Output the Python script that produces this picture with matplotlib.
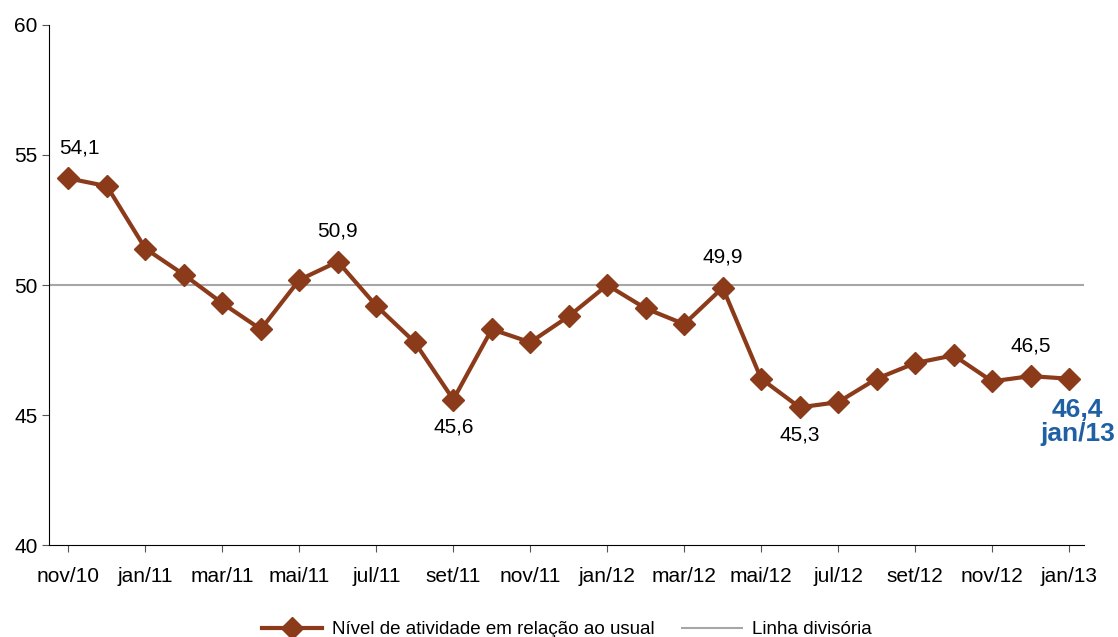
import matplotlib.pyplot as plt

plt.rcParams['font.family'] = ['Liberation Sans', 'DejaVu Sans']

months = ['nov/10', 'dez/10', 'jan/11', 'fev/11', 'mar/11', 'abr/11', 'mai/11', 'jun/11',
          'jul/11', 'ago/11', 'set/11', 'out/11', 'nov/11', 'dez/11', 'jan/12', 'fev/12',
          'mar/12', 'abr/12', 'mai/12', 'jun/12', 'jul/12', 'ago/12', 'set/12', 'out/12',
          'nov/12', 'dez/12', 'jan/13']
values = [54.1, 53.8, 51.4, 50.4, 49.3, 48.3, 50.2, 50.9, 49.2, 47.8, 45.6, 48.3, 47.8,
          48.8, 50.0, 49.1, 48.5, 49.9, 46.4, 45.3, 45.5, 46.4, 47.0, 47.3, 46.3, 46.5, 46.4]
divisor = 50
above_labels = {0: '54,1', 7: '50,9', 17: '49,9', 25: '46,5'}
below_labels = {10: '45,6', 19: '45,3'}

brown = '#8b3a1a'
blue = '#1f5fa3'

fig = plt.figure(figsize=(11.18, 6.37), dpi=100)
ax = fig.add_axes([0.044, 0.144, 0.926, 0.817])

x = list(range(len(values)))
ax.plot(x, values, color=brown, lw=3, marker='D', ms=11, zorder=3,
        label='Nível de atividade em relação ao usual')
ax.axhline(divisor, color='#a6a6a6', lw=1.5, zorder=1, label='Linha divisória')

for i, t in above_labels.items():
    dx = 8 if i == 0 else 0
    ax.annotate(t, (i, values[i]), xytext=(dx, 15), textcoords='offset points',
                ha='center', va='bottom', fontsize=15)
for i, t in below_labels.items():
    ax.annotate(t, (i, values[i]), xytext=(0, -13), textcoords='offset points',
                ha='center', va='top', fontsize=15)
last = len(values) - 1
ax.annotate('46,4\njan/13', (last, values[last]), xytext=(6, -14), textcoords='offset points',
            ha='center', va='top', fontsize=19, fontweight='bold', color=blue,
            linespacing=1.0, annotation_clip=False)

ax.set_ylim(40, 60)
ax.set_yticks([40, 45, 50, 55, 60])
ax.set_xlim(-0.5, 26.4)
ax.set_xticks(x[::2])
ax.set_xticklabels(months[::2])
ax.tick_params(labelsize=15, length=5, color='#555555')
ax.tick_params(axis='x', pad=11)
for s in ['top', 'right']:
    ax.spines[s].set_visible(False)

ax.legend(loc='upper center', bbox_to_anchor=(0.5, -0.113), ncol=2, frameon=False,
          fontsize=13.5, handlelength=3.2, handletextpad=0.5, columnspacing=1.5)

fig.savefig('out.png', dpi=100)
